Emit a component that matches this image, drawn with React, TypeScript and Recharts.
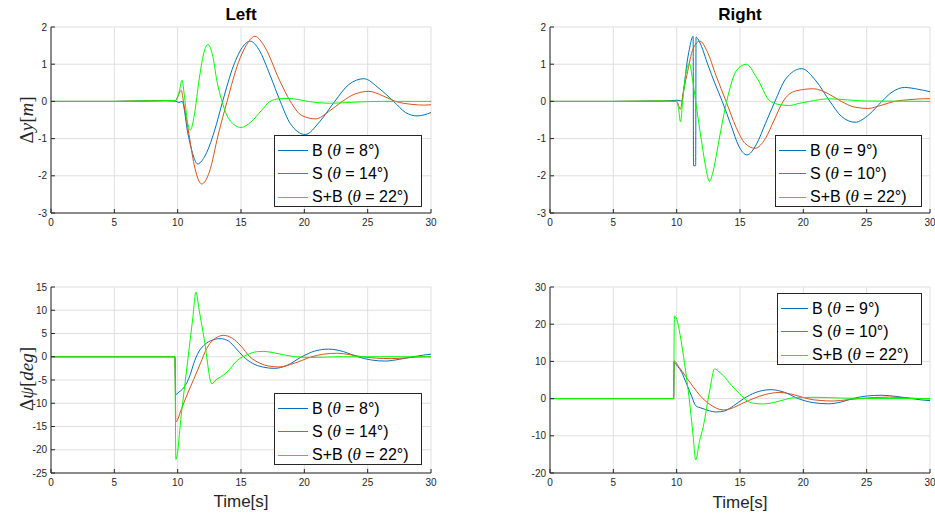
import React from 'react';
import { LineChart, Line, XAxis, YAxis, CartesianGrid } from 'recharts';

document.body.style.margin = '0';

type Pt = [number, number];

// time ticks shared by all panels
const xTicks = [0, 5, 10, 15, 20, 25, 30];
const dyTicks = [-3, -2, -1, 0, 1, 2];
const dpsiLeftTicks = [-25, -20, -15, -10, -5, 0, 5, 10, 15];
const dpsiRightTicks = [-20, -10, 0, 10, 20, 30];

const leftNames = ['B', 'S', 'S+B'];
const leftAngles = [8, 14, 22];
const rightNames = ['B', 'S', 'S+B'];
const rightAngles = [9, 10, 22];

// Left, delta y [m]
const leftDyB: Pt[] = [
  [0, 0], [5, 0], [9, 0.02], [9.8, 0.01], [10.1, -0.03], [10.35, 0], [10.8, -0.85], [11.1, -1.3],
  [11.58, -1.68], [12.1, -1.5], [12.9, -0.8], [13.55, 0], [14.4, 0.95], [15.1, 1.45], [15.73, 1.62],
  [16.4, 1.4], [17.3, 0.7], [18.1, 0], [18.9, -0.6], [20.07, -0.89], [21.2, -0.55], [22.4, 0],
  [23.5, 0.45], [24.7, 0.61], [25.9, 0.35], [27.05, 0], [28.0, -0.3], [28.9, -0.39], [30, -0.3],
];
const leftDyS: Pt[] = [
  [0, 0], [5, 0], [9, 0.02], [9.8, 0.02], [10.1, 0.2], [10.28, 0.3], [10.5, -0.1], [10.9, -0.9],
  [11.3, -1.7], [11.9, -2.22], [12.5, -1.9], [13.2, -0.9], [13.9, 0], [14.8, 1.05], [15.4, 1.5],
  [16.1, 1.75], [16.9, 1.45], [18.0, 0.6], [18.9, 0], [19.8, -0.38], [20.9, -0.47], [21.9, -0.28],
  [23.0, 0], [24.0, 0.2], [25.1, 0.27], [26.2, 0.15], [27.2, 0], [28.5, -0.08], [29.5, -0.1], [30, -0.09],
];
const leftDySB: Pt[] = [
  [0, 0], [5, 0], [9, 0.02], [9.85, 0.02], [10.15, 0.3], [10.34, 0.57], [10.55, 0.1], [10.75, -0.5],
  [11.0, -0.77], [11.3, -0.4], [11.7, 0.6], [12.1, 1.35], [12.39, 1.53], [12.75, 1.25], [13.1, 0.55],
  [13.5, 0], [14.1, -0.5], [15.0, -0.7], [15.8, -0.55], [16.6, -0.25], [17.3, 0], [18.0, 0.07],
  [18.75, 0.08], [19.5, 0.05], [20.3, 0], [22, -0.05], [24, -0.02], [26, 0], [30, 0],
];

// Right, delta y [m]
const rightDyB: Pt[] = [
  [0, 0], [5, 0], [9, 0.01], [10.0, 0.03], [10.3, 0.02], [10.4, 0], [10.6, 0.45], [10.8, 1.0],
  [11.0, 1.4], [11.3, 1.75], [11.33, -1.73], [11.5, -1.73], [11.53, 1.73], [11.8, 1.6], [12.5, 0.95],
  [13.0, 0.5], [13.6, 0], [14.3, -0.65], [14.9, -1.2], [15.55, -1.44], [16.3, -1.15], [17.0, -0.6],
  [17.76, 0], [18.6, 0.6], [19.87, 0.88], [21.0, 0.55], [22.1, 0], [23.0, -0.4], [24.08, -0.56],
  [25.2, -0.35], [26.2, 0], [27.0, 0.25], [28.0, 0.375], [29, 0.33], [30, 0.26],
];
const rightDyS: Pt[] = [
  [0, 0], [5, 0], [9, 0.01], [10.0, 0], [10.3, -0.21], [10.5, 0.2], [10.8, 0.7], [11.3, 1.42],
  [11.84, 1.62], [12.4, 1.35], [13.1, 0.7], [13.9, 0], [14.7, -0.7], [15.4, -1.13], [16.2, -1.26],
  [17.0, -1.0], [17.7, -0.5], [18.4, 0], [19.4, 0.28], [20.8, 0.34], [22.0, 0.2], [23.0, 0],
  [24.0, -0.15], [25.1, -0.19], [26.2, -0.1], [27.2, 0], [28.5, 0.05], [29.5, 0.07], [30, 0.07],
];
const rightDySB: Pt[] = [
  [0, 0], [5, 0], [9, 0.01], [10.0, 0], [10.15, -0.2], [10.3, -0.55], [10.5, 0.1], [10.75, 0.8],
  [11.0, 1.02], [11.25, 0.6], [11.5, 0], [11.95, -1.04], [12.34, -1.85], [12.58, -2.15], [12.9, -1.85],
  [13.16, -1.39], [13.5, -0.75], [13.95, 0], [14.74, 0.84], [15.5, 1.0], [16.3, 0.65], [17.4, 0],
  [18.2, -0.09], [18.9, -0.11], [19.7, -0.05], [20.5, 0], [22.0, 0.07], [23.5, 0.04], [25, 0.01], [30, 0],
];

// Left, delta psi [deg]
const leftDpsiB: Pt[] = [
  [0, 0], [9.78, 0], [9.85, -8.1], [10.1, -7.6], [10.47, -6.7], [11.0, -3.8], [11.26, -1.5],
  [11.65, 1.0], [12.05, 2.4], [12.57, 3.4], [13.36, 3.9], [14.0, 3.4], [14.6, 1.8], [15.2, 0],
  [15.9, -1.4], [16.7, -2.2], [17.65, -2.5], [18.6, -1.9], [19.8, 0], [20.8, 1.2], [21.9, 1.64],
  [23.1, 1.1], [24.2, 0], [25.3, -0.7], [26.4, -0.93], [27.5, -0.55], [28.6, 0], [29.4, 0.35], [30, 0.55],
];
const leftDpsiS: Pt[] = [
  [0, 0], [9.78, 0], [9.86, -14.0], [10.3, -11.2], [10.8, -7.8], [11.26, -4.9], [11.8, -1.4],
  [12.3, 1.8], [12.8, 3.6], [13.63, 4.6], [14.3, 4.0], [15.0, 2.3], [15.7, 0], [16.5, -1.4],
  [17.2, -2.0], [18.0, -2.2], [19.2, -1.4], [20.6, 0], [21.5, 0.55], [22.6, 0.75], [23.6, 0.45],
  [24.55, 0], [25.7, -0.3], [26.8, -0.4], [28.0, -0.25], [29.0, -0.05], [30, 0],
];
const leftDpsiSB: Pt[] = [
  [0, 0], [9.78, 0], [9.86, -22.1], [10.3, -12.1], [10.8, -0.7], [11.2, 8.5], [11.44, 13.9],
  [11.7, 10.0], [12.1, 3.7], [12.7, -5.8], [13.0, -5.0], [13.36, -4.4], [13.9, -3.3], [14.7, -0.8],
  [15.5, 0.45], [16.3, 1.1], [16.8, 1.15], [17.6, 0.85], [18.5, 0.35], [19.3, 0], [20.5, -0.15],
  [21.5, -0.1], [23, 0], [30, 0],
];

// Right, delta psi [deg]
const rightDpsiB: Pt[] = [
  [0, 0], [9.76, 0], [9.8, 9.8], [10.0, 9.0], [10.39, 7.1], [10.8, 3.8], [11.2, 0.5], [11.5, -1.9],
  [12.0, -2.6], [12.6, -3.3], [13.1, -3.6], [13.8, -3.3], [14.5, -1.9], [15.3, 0], [16.2, 1.6],
  [17.45, 2.4], [18.5, 1.7], [19.6, 0], [20.8, -1.1], [22.0, -1.4], [23.0, -0.9], [23.9, 0],
  [25.0, 0.7], [26.2, 0.9], [27.4, 0.55], [28.55, 0], [29.3, -0.35], [30, -0.55],
];
const rightDpsiS: Pt[] = [
  [0, 0], [9.76, 0], [9.8, 10.1], [10.2, 8.4], [10.7, 6.0], [11.3, 3.2], [11.9, 0.6], [12.6, -1.5],
  [13.68, -3.05], [14.5, -2.4], [15.3, -1.1], [16.05, 0], [17.0, 1.1], [18.1, 1.65], [19.3, 1.0],
  [20.3, 0], [21.3, -0.5], [22.4, -0.65], [23.5, -0.3], [24.5, 0], [25.6, 0.3], [26.8, 0.4],
  [28, 0.25], [29.2, 0], [30, -0.1],
];
const rightDpsiSB: Pt[] = [
  [0, 0], [9.76, 0], [9.82, 22.2], [9.9, 22.1], [10.39, 14.7], [10.7, 7.5], [10.99, 0], [11.3, -10.0],
  [11.5, -16.5], [11.8, -11.5], [12.1, -7.5], [12.6, 2.0], [13.0, 8.0], [13.3, 7.3], [13.68, 6.2],
  [14.34, 3.5], [14.98, 1.26], [15.6, -0.7], [16.2, -1.3], [16.8, -1.44], [17.6, -1.1], [18.4, -0.4],
  [19.2, 0.2], [21, 0.35], [23, 0.15], [25, 0.05], [30, 0],
];

const colors = ['#0072bd', '#d95319', '#00ff00'];
const ink = '#262626';
const sans = '"Liberation Sans", Arial, sans-serif';
const serif = '"Liberation Serif", "Times New Roman", serif';

const toRows = (pts: Pt[]) => pts.map(([t, v]) => ({ t, v }));

function Panel({ left, top, domain, ticks, series }: any) {
  return (
    <div style={{ position: 'absolute', left, top }}>
      <LineChart
        width={440}
        height={238}
        margin={{ top: 27, right: 9, bottom: 0, left: 21 }}
        style={{ fontFamily: sans }}
      >
        <CartesianGrid stroke="#dfdfdf" />
        <XAxis
          dataKey="t"
          type="number"
          domain={[0, 30]}
          ticks={xTicks}
          interval={0}
          height={25}
          stroke={ink}
          tick={{ fontSize: 10, fill: ink }}
          tickSize={-4}
          tickMargin={10}
        />
        <XAxis
          xAxisId="top"
          orientation="top"
          dataKey="t"
          type="number"
          domain={[0, 30]}
          ticks={xTicks}
          interval={0}
          height={0}
          stroke={ink}
          tick={false}
          tickSize={-4}
        />
        <YAxis
          type="number"
          domain={domain}
          ticks={ticks}
          interval={0}
          width={30}
          allowDataOverflow
          stroke={ink}
          tick={{ fontSize: 10, fill: ink }}
          tickSize={-4}
          tickMargin={8}
        />
        <YAxis
          yAxisId="right"
          orientation="right"
          type="number"
          domain={domain}
          ticks={ticks}
          interval={0}
          width={0}
          stroke={ink}
          tick={false}
          tickSize={-4}
        />
        {series.map((pts: Pt[], i: number) => (
          <Line
            key={i}
            data={toRows(pts)}
            dataKey="v"
            type="monotone"
            stroke={colors[i]}
            strokeWidth={1}
            dot={false}
            isAnimationActive={false}
          />
        ))}
      </LineChart>
    </div>
  );
}

function LegendBox({ left, top, width, names, angles, sample }: any) {
  return (
    <div
      style={{
        position: 'absolute',
        left,
        top,
        width,
        height: 72,
        boxSizing: 'border-box',
        border: `1px solid ${ink}`,
        background: '#fff',
        paddingTop: 3,
        fontFamily: sans,
        fontSize: 16,
        color: '#000',
      }}
    >
      {names.map((n: string, i: number) => (
        <div key={n} style={{ display: 'flex', alignItems: 'center', height: 23.3, whiteSpace: 'nowrap' }}>
          <div style={{ width: sample, marginLeft: 3, marginRight: 4, borderTop: `1.4px solid ${colors[i]}` }} />
          <span>
            {n} (<span style={{ fontFamily: serif, fontStyle: 'italic', fontSize: 17 }}>θ</span> = {angles[i]}°)
          </span>
        </div>
      ))}
    </div>
  );
}

function Text({ x, y, children, style, rotate }: any) {
  return (
    <div
      style={{
        position: 'absolute',
        left: x,
        top: y,
        transform: `translate(-50%, -50%)${rotate ? ' rotate(-90deg)' : ''}`,
        lineHeight: 1,
        whiteSpace: 'nowrap',
        color: ink,
        ...style,
      }}
    >
      {children}
    </div>
  );
}

export default function App() {
  const title = { fontFamily: sans, fontSize: 17, fontWeight: 'bold', color: '#000' };
  const axisTitle = { fontFamily: sans, fontSize: 17 };
  const mathLabel = { fontFamily: serif, fontSize: 19 };
  const it = { fontStyle: 'italic' };
  return (
    <div style={{ position: 'relative', width: 935, height: 515, background: '#fff', overflow: 'hidden' }}>
      <Panel left={0} top={0} domain={[-3, 2]} ticks={dyTicks} series={[leftDyB, leftDyS, leftDySB]} />
      <Panel left={499} top={0} domain={[-3, 2]} ticks={dyTicks} series={[rightDyB, rightDyS, rightDySB]} />
      <Panel left={0} top={260} domain={[-25, 15]} ticks={dpsiLeftTicks} series={[leftDpsiB, leftDpsiS, leftDpsiSB]} />
      <Panel left={499} top={260} domain={[-20, 30]} ticks={dpsiRightTicks} series={[rightDpsiB, rightDpsiS, rightDpsiSB]} />

      <Text x={241} y={14} style={title}>Left</Text>
      <Text x={740} y={14} style={title}>Right</Text>

      <Text x={26} y={120} rotate style={mathLabel}>
        Δ<span style={it}>y</span>[<span style={it}>m</span>]
      </Text>
      <Text x={26} y={379} rotate style={mathLabel}>
        Δ<span style={it}>ψ</span>[<span style={it}>deg</span>]
      </Text>

      <Text x={241} y={501} style={axisTitle}>Time[s]</Text>
      <Text x={740} y={502} style={axisTitle}>Time[s]</Text>

      <LegendBox left={274} top={135} width={148} names={leftNames} angles={leftAngles} sample={30} />
      <LegendBox left={775} top={135} width={147} names={rightNames} angles={rightAngles} sample={27} />
      <LegendBox left={274} top={393} width={148} names={leftNames} angles={leftAngles} sample={30} />
      <LegendBox left={777} top={293} width={145} names={rightNames} angles={rightAngles} sample={27} />
    </div>
  );
}
